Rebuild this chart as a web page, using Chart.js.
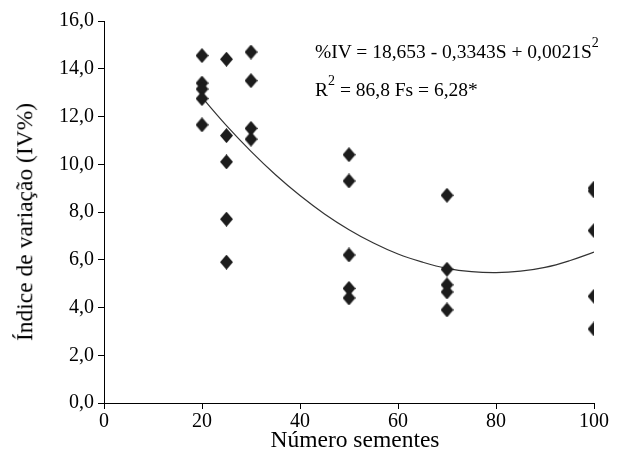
<!DOCTYPE html>
<html>
<head>
<meta charset="utf-8">
<script src="https://cdn.jsdelivr.net/npm/chart.js@4"></script>
<style>
  html, body { margin: 0; padding: 0; background: #fff; }
  #wrap { position: relative; width: 630px; height: 464px; }
  .eq { position: absolute; font-family: "Liberation Serif", "Times New Roman", serif; font-size: 19.5px; color: #000; white-space: nowrap; line-height: 1; }
  .eq sup { font-size: 14px; position: relative; top: -3px; }
  .atitle { position: absolute; font-family: "Liberation Serif", "Times New Roman", serif; font-size: 23.5px; color: #000; white-space: nowrap; line-height: 1; }
  #ytitle { left: 25px; top: 222px; transform: translate(-50%, -50%) rotate(-90deg); }
  #xtitle { left: 355px; top: 440px; transform: translate(-50%, -50%); }
</style>
</head>
<body>
<div id="wrap">
  <canvas id="chart" width="630" height="464"></canvas>
  <div id="ytitle" class="atitle">Índice de variação (IV%)</div>
  <div id="xtitle" class="atitle">Número sementes</div>
  <div class="eq" style="left:315px; top:39px;">%IV = 18,653 - 0,3343S + 0,0021S<sup>2</sup></div>
  <div class="eq" style="left:315px; top:77px;">R<sup>2</sup> = 86,8 Fs = 6,28*</div>
</div>
<script>
// --- data ---
const seedNumbers = [20, 25, 30, 50, 70, 100];
const ivValues = [
    [14.55, 13.4, 13.15, 12.75, 11.65],
    [14.4, 11.2, 10.1, 7.7, 5.9],
    [14.7, 13.5, 11.5, 11.05],
    [10.4, 9.3, 6.2, 4.8, 4.4],
    [8.7, 5.6, 4.95, 4.65, 3.9],
    [9.0, 8.88, 7.22, 4.47, 3.1]
];
// fitted curve
const curveX = [20, 25, 30, 35, 40, 45, 50, 55, 60, 65, 70, 75, 80, 85, 90, 95, 100];
const curveY = [12.8, 11.62, 10.54, 9.56, 8.69, 7.92, 7.26, 6.7, 6.24, 5.9, 5.64, 5.5, 5.46, 5.52, 5.68, 5.96, 6.32];
const xTicks = [0, 20, 40, 60, 80, 100];
const yTicks = [0, 2, 4, 6, 8, 10, 12, 14, 16];

const FONT = '"Liberation Serif", "Times New Roman", serif';

// scatter points
const points = [];
seedNumbers.forEach((s, i) => {
    ivValues[i].forEach(v => points.push({ x: s, y: v }));
});
const curve = curveX.map((x, i) => ({ x: x, y: curveY[i] }));

// diamond marker, a bit taller than wide
function makeDiamond() {
    const c = document.createElement('canvas');
    c.width = 13; c.height = 15;
    const g = c.getContext('2d');
    g.fillStyle = '#1c1c1c';
    g.beginPath();
    g.moveTo(6.5, 0); g.lineTo(13, 7.5); g.lineTo(6.5, 15); g.lineTo(0, 7.5);
    g.closePath(); g.fill();
    return c;
}

new Chart(document.getElementById('chart'), {
    type: 'scatter',
    data: {
        datasets: [
            { data: points, pointStyle: makeDiamond(), pointRadius: 6, order: 1 },
            {
                type: 'line', data: curve, borderColor: '#333', borderWidth: 1.2,
                pointRadius: 0, tension: 0.4, fill: false, order: 2
            }
        ]
    },
    options: {
        responsive: false,
        animation: false,
        events: [],
        layout: { padding: { top: 21, right: 36, left: 0, bottom: 0 } },
        plugins: { legend: { display: false }, tooltip: { enabled: false } },
        scales: {
            x: {
                type: 'linear', min: 0, max: 100,
                afterBuildTicks: s => { s.ticks = xTicks.map(v => ({ value: v })); },
                afterFit: s => { s.height = 61; },
                grid: { drawOnChartArea: false, color: '#000', tickLength: 6, tickWidth: 1 },
                border: { color: '#000', width: 1 },
                ticks: { color: '#000', font: { family: FONT, size: 20 }, padding: 1, maxRotation: 0 }
            },
            y: {
                min: 0, max: 16,
                afterBuildTicks: s => { s.ticks = yTicks.map(v => ({ value: v })); },
                afterFit: s => { s.width = 104; },
                grid: { drawOnChartArea: false, color: '#000', tickLength: 6, tickWidth: 1 },
                border: { color: '#000', width: 1 },
                ticks: { color: '#000', font: { family: FONT, size: 20 }, padding: 4, callback: v => v.toFixed(1).replace('.', ',') }
            }
        }
    }
});
</script>
</body>
</html>
